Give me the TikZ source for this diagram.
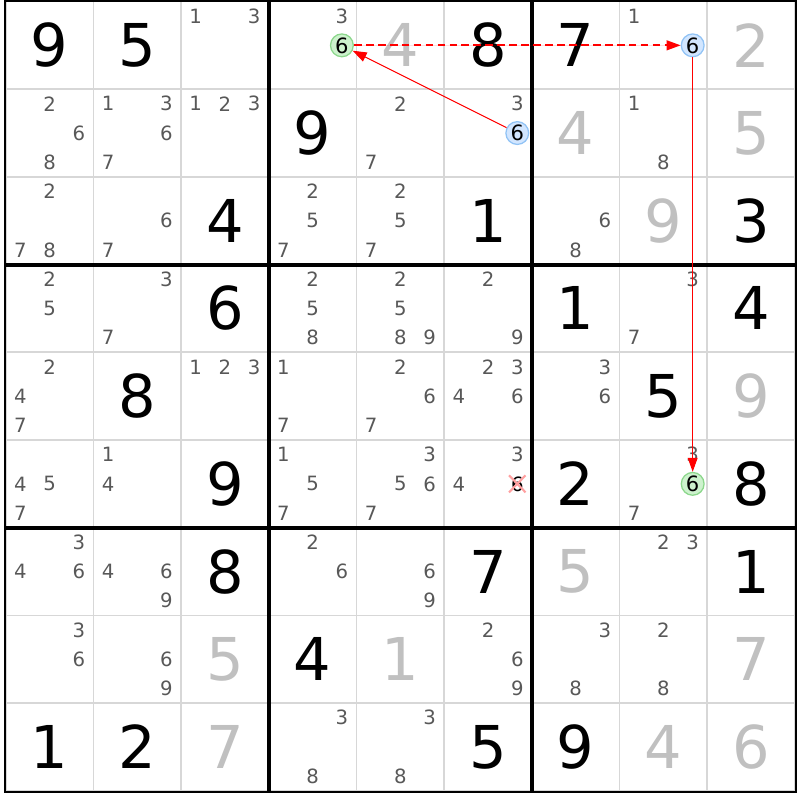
\documentclass[tikz,border=0pt]{standalone}
\usepackage{fontspec}
\setmainfont{DejaVu Sans}
\usetikzlibrary{arrows.meta,calc,shapes.misc}

\definecolor{gridgray}{RGB}{215,215,215}
\definecolor{solvgray}{RGB}{192,192,192}
\definecolor{pmgray}{RGB}{88,88,88}
\definecolor{ringgreen}{RGB}{140,215,140}
\definecolor{fillgreen}{RGB}{205,242,205}
\definecolor{ringblue}{RGB}{145,195,245}
\definecolor{fillblue}{RGB}{210,230,255}
\definecolor{xpink}{RGB}{255,160,160}
\definecolor{linkred}{RGB}{255,0,0}

% candidates of one cell, digit d sits in its own third of the cell
\newcommand{\cands}[2]{%
  \foreach \cd in {#2} {%
    \pgfmathsetmacro{\cx}{(mod(\cd-1,3)-1)/3}%
    \pgfmathsetmacro{\cy}{(1-floor((\cd-1)/3))/3}%
    \node[pm] at ($(#1)+(\cx,\cy)$) {\cd};%
  }}

\begin{document}
\begin{tikzpicture}[x=2.1925cm, y=2.1925cm, node distance=2.1925cm]
\tikzstyle {cell}=[rectangle, minimum width=2.1925cm, minimum height=2.1925cm, inner sep=0pt, draw=gridgray, line width=1.2pt]
\tikzstyle {cellk}=[cell, font=\fontsize{42}{42}\selectfont]
\tikzstyle {cellg}=[cellk, text=solvgray]
\tikzstyle {pm}=[inner sep=0pt, font=\fontsize{14}{14}\selectfont, text=pmgray]
\tikzstyle {pmg}=[pm, circle, text=black, font=\fontsize{15}{15}\selectfont, draw=ringgreen, fill=fillgreen, line width=0.9pt, minimum size=0.57cm]
\tikzstyle {pmb}=[pmg, draw=ringblue, fill=fillblue]
\tikzstyle {pmx}=[pm, cross out, text=black, draw=xpink, line width=1.5pt, minimum size=0.36cm]
\tikzstyle {box}=[draw=black, line width=1.6pt]
\tikzstyle {link}=[draw=linkred, fill=linkred, line width=0.7pt, -{Triangle[length=10pt,width=7pt]}]
\tikzstyle {weaklink}=[link, line width=1.2pt, dash pattern=on 5.5pt off 3pt]
\useasboundingbox (-0.565,0.517) rectangle (8.557,-8.605);

% row 0
\node (00) [cellk] {9};
\node (01) [cellk, right of=00] {5};
\node (02) [cell, right of=01] {};
\node (03) [cell, right of=02] {};
\node (04) [cellg, right of=03] {4};
\node (05) [cellk, right of=04] {8};
\node (06) [cellk, right of=05] {7};
\node (07) [cell, right of=06] {};
\node (08) [cellg, right of=07] {2};
% row 1
\node (10) [cell, below of=00] {};
\node (11) [cell, right of=10] {};
\node (12) [cell, right of=11] {};
\node (13) [cellk, right of=12] {9};
\node (14) [cell, right of=13] {};
\node (15) [cell, right of=14] {};
\node (16) [cellg, right of=15] {4};
\node (17) [cell, right of=16] {};
\node (18) [cellg, right of=17] {5};
% row 2
\node (20) [cell, below of=10] {};
\node (21) [cell, right of=20] {};
\node (22) [cellk, right of=21] {4};
\node (23) [cell, right of=22] {};
\node (24) [cell, right of=23] {};
\node (25) [cellk, right of=24] {1};
\node (26) [cell, right of=25] {};
\node (27) [cellg, right of=26] {9};
\node (28) [cellk, right of=27] {3};
% row 3
\node (30) [cell, below of=20] {};
\node (31) [cell, right of=30] {};
\node (32) [cellk, right of=31] {6};
\node (33) [cell, right of=32] {};
\node (34) [cell, right of=33] {};
\node (35) [cell, right of=34] {};
\node (36) [cellk, right of=35] {1};
\node (37) [cell, right of=36] {};
\node (38) [cellk, right of=37] {4};
% row 4
\node (40) [cell, below of=30] {};
\node (41) [cellk, right of=40] {8};
\node (42) [cell, right of=41] {};
\node (43) [cell, right of=42] {};
\node (44) [cell, right of=43] {};
\node (45) [cell, right of=44] {};
\node (46) [cell, right of=45] {};
\node (47) [cellk, right of=46] {5};
\node (48) [cellg, right of=47] {9};
% row 5
\node (50) [cell, below of=40] {};
\node (51) [cell, right of=50] {};
\node (52) [cellk, right of=51] {9};
\node (53) [cell, right of=52] {};
\node (54) [cell, right of=53] {};
\node (55) [cell, right of=54] {};
\node (56) [cellk, right of=55] {2};
\node (57) [cell, right of=56] {};
\node (58) [cellk, right of=57] {8};
% row 6
\node (60) [cell, below of=50] {};
\node (61) [cell, right of=60] {};
\node (62) [cellk, right of=61] {8};
\node (63) [cell, right of=62] {};
\node (64) [cell, right of=63] {};
\node (65) [cellk, right of=64] {7};
\node (66) [cellg, right of=65] {5};
\node (67) [cell, right of=66] {};
\node (68) [cellk, right of=67] {1};
% row 7
\node (70) [cell, below of=60] {};
\node (71) [cell, right of=70] {};
\node (72) [cellg, right of=71] {5};
\node (73) [cellk, right of=72] {4};
\node (74) [cellg, right of=73] {1};
\node (75) [cell, right of=74] {};
\node (76) [cell, right of=75] {};
\node (77) [cell, right of=76] {};
\node (78) [cellg, right of=77] {7};
% row 8
\node (80) [cellk, below of=70] {1};
\node (81) [cellk, right of=80] {2};
\node (82) [cellg, right of=81] {7};
\node (83) [cell, right of=82] {};
\node (84) [cell, right of=83] {};
\node (85) [cellk, right of=84] {5};
\node (86) [cellk, right of=85] {9};
\node (87) [cellg, right of=86] {4};
\node (88) [cellg, right of=87] {6};

% boxes
\draw[box] (00.north west) rectangle (22.south east);
\draw[box] (03.north west) rectangle (25.south east);
\draw[box] (06.north west) rectangle (28.south east);
\draw[box] (30.north west) rectangle (52.south east);
\draw[box] (33.north west) rectangle (55.south east);
\draw[box] (36.north west) rectangle (58.south east);
\draw[box] (60.north west) rectangle (82.south east);
\draw[box] (63.north west) rectangle (85.south east);
\draw[box] (66.north west) rectangle (88.south east);

% candidates
\cands{02}{1,3} \cands{03}{3} \cands{07}{1}
\cands{10}{2,6,8} \cands{11}{1,3,6,7} \cands{12}{1,2,3} \cands{14}{2,7} \cands{15}{3} \cands{17}{1,8}
\cands{20}{2,7,8} \cands{21}{6,7} \cands{23}{2,5,7} \cands{24}{2,5,7} \cands{26}{6,8}
\cands{30}{2,5} \cands{31}{3,7} \cands{33}{2,5,8} \cands{34}{2,5,8,9} \cands{35}{2,9} \cands{37}{3,7}
\cands{40}{2,4,7} \cands{42}{1,2,3} \cands{43}{1,7} \cands{44}{2,6,7} \cands{45}{2,3,4,6} \cands{46}{3,6}
\cands{50}{4,5,7} \cands{51}{1,4} \cands{53}{1,5,7} \cands{54}{3,5,6,7} \cands{55}{3,4} \cands{57}{3,7}
\cands{60}{3,4,6} \cands{61}{4,6,9} \cands{63}{2,6} \cands{64}{6,9} \cands{67}{2,3}
\cands{70}{3,6} \cands{71}{6,9} \cands{75}{2,6,9} \cands{76}{3,8} \cands{77}{2,8}
\cands{83}{3,8} \cands{84}{3,8}

% the chain on 6
\node (g03) [pmg] at ($(03)+(1/3,0)$) {6};
\node (b15) [pmb] at ($(15)+(1/3,0)$) {6};
\node (b07) [pmb] at ($(07)+(1/3,0)$) {6};
\node (g57) [pmg] at ($(57)+(1/3,0)$) {6};
\node (x55) [pmx] at ($(55)+(1/3,0)$) {6};
\draw[link] (b15) -- (g03);
\draw[weaklink] (g03) -- (b07);
\draw[link] (b07) -- (g57);
\end{tikzpicture}
\end{document}
